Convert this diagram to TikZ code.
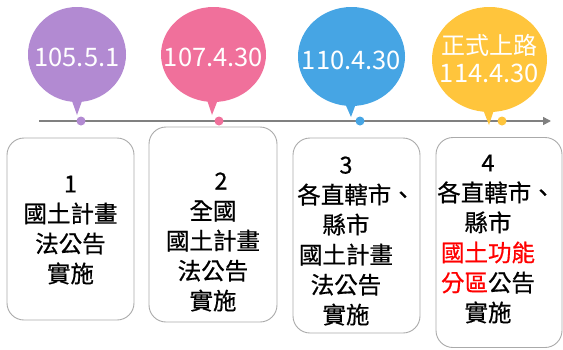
\documentclass[tikz,border=0pt]{standalone}
\usepackage{fontspec}
\setmainfont{Noto Sans CJK TC}
\newfontfamily\boxfont[FakeBold=0.6]{Noto Sans CJK TC}
\usetikzlibrary{shapes.geometric,arrows.meta,calc}
\definecolor{cpurple}{RGB}{178,138,210}
\definecolor{cpink}{RGB}{240,112,155}
\definecolor{cblue}{RGB}{70,165,228}
\definecolor{cyellow}{RGB}{255,197,60}
\definecolor{lgray}{RGB}{128,128,128}
\definecolor{bgray}{RGB}{170,170,170}
\definecolor{cred}{RGB}{255,0,0}
\begin{document}
\begin{tikzpicture}[x=1pt,y=-1pt,
  balloon/.style={ellipse, fill=#1, inner sep=0pt},
  dot/.style={circle, fill=#1, inner sep=0pt, minimum size=9pt},
  datetxt/.style={text=white, font=\fontsize{25.5}{28}\selectfont, align=center, inner sep=0pt},
  stepbox/.style={draw=bgray, line width=0.9pt, rounded corners=17pt, fill=white},
  boxtxt/.style={font=\boxfont\fontsize{23.5}{30}\selectfont, align=center, inner sep=0pt, text=black}]
\useasboundingbox (0,0) rectangle (563,349);
% timeline
\coordinate (ls) at (39,121);
\coordinate (le) at (551,121);
\draw[lgray, line width=1.6pt, -{Triangle[length=8pt,width=8pt]}] (ls) -- (le);
% balloons
\node[balloon=cpurple, minimum width=98pt, minimum height=95pt] (b1) at (77,54.5) {};
\node[balloon=cpink, minimum width=105pt, minimum height=95pt] (b2) at (213.5,54.5) {};
\node[balloon=cblue, minimum width=107pt, minimum height=99pt] (b3) at (351.5,56.5) {};
\node[balloon=cyellow, minimum width=115pt, minimum height=105pt] (b4) at (489.5,59.5) {};
\coordinate (p1) at (77,115);
\coordinate (p2) at (212,115);
\coordinate (p3) at (351,117);
\coordinate (p4) at (489,125);
\fill[cpurple] ($(b1.south)+(-6,-4)$) -- (p1) -- ($(b1.south)+(6,-4)$) -- cycle;
\fill[cpink] ($(b2.south)+(-7,-4)$) -- (p2) -- ($(b2.south)+(5,-4)$) -- cycle;
\fill[cblue] ($(b3.south)+(-7,-4)$) -- (p3) -- ($(b3.south)+(5,-4)$) -- cycle;
\fill[cyellow] ($(b4.south)+(-7,-4)$) -- (p4) -- ($(b4.south)+(5,-4)$) -- cycle;
\node[datetxt] (t1) at (77,57) {105.5.1};
\node[datetxt] (t2) at (213.5,57) {107.4.30};
\node[datetxt] (t3) at (351.5,60) {110.4.30};
\node[datetxt] (t4) at (489.5,59) {{\fontsize{24}{28}\selectfont 正式上路}\\114.4.30};
% dots
\node[dot=cpurple] (d1) at (81,121) {};
\node[dot=cpink] (d2) at (219,121) {};
\node[dot=cblue] (d3) at (360,121) {};
\node[dot=cyellow] (d4) at (502,121) {};
% boxes
\node[stepbox, minimum width=127pt, minimum height=182pt] (s1) at (70.5,229) {};
\node[stepbox, minimum width=128pt, minimum height=195pt] (s2) at (213,224.5) {};
\node[stepbox, minimum width=127pt, minimum height=195pt] (s3) at (356.5,235.5) {};
\node[stepbox, minimum width=126pt, minimum height=210pt] (s4) at (499,242.5) {};
\node[boxtxt] (x1) at (70.5,230) {1\\國土計畫\\法公告\\實施};
\node[boxtxt] (x2) at (213,242) {\hspace*{16pt}2\\全國\\國土計畫\\法公告\\實施};
\node[boxtxt] (x3) at (346,241) {3\\\hspace*{20pt}各直轄市、\\縣市\\國土計畫\\法公告\\實施};
\node[boxtxt] (x4) at (488,239) {4\\\hspace*{16pt}各直轄市、\\縣市\\\textcolor{cred}{國土功能}\\\textcolor{cred}{分區}公告\\實施};
\end{tikzpicture}
\end{document}
